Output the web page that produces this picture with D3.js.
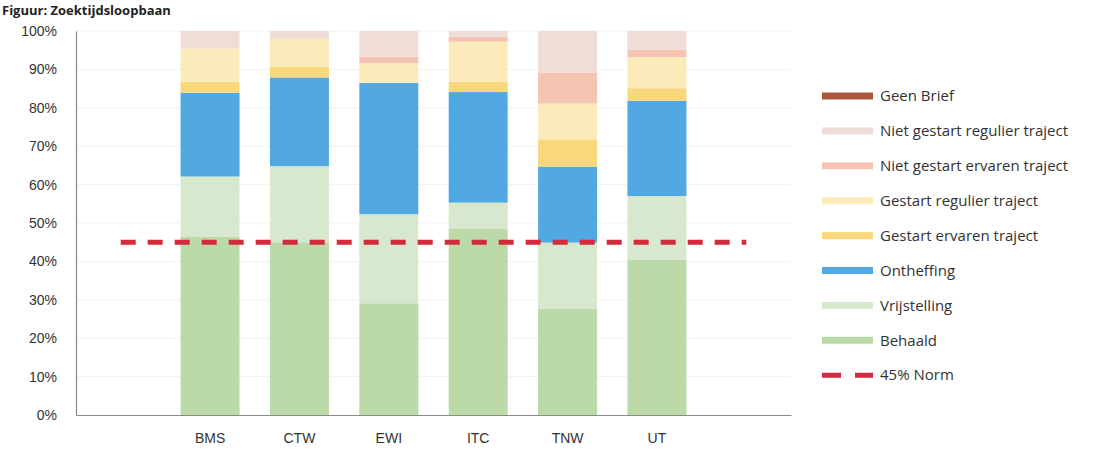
<!DOCTYPE html>
<html>
<head>
<meta charset="utf-8">
<script src="https://cdn.jsdelivr.net/npm/d3@7/dist/d3.min.js"></script>
<style>
  html, body { margin: 0; padding: 0; background: #fff; }
  svg { display: block; font-family: "Open Sans", "Liberation Sans", sans-serif; }
</style>
</head>
<body>
<svg id="chart" width="1094" height="450"></svg>
<script>
// Faculties (empty slots at both ends keep the norm line running past the bars)
const categories = ["", "BMS", "CTW", "EWI", "ITC", "TNW", "UT", " "];
const faculties = ["BMS", "CTW", "EWI", "ITC", "TNW", "UT"];

// Share per status (%), stacked bottom to top
const behaald            = [46.5, 45.0, 29.1, 48.6, 27.6, 40.5];
const vrijstelling       = [15.6, 19.8, 23.2,  6.7, 17.3, 16.5];
const ontheffing         = [21.8, 23.1, 34.2, 28.8, 19.8, 24.8];
const gestartErvaren     = [ 2.9,  2.8,  0.0,  2.7,  7.1,  3.3];
const gestartRegulier    = [ 8.6,  7.3,  5.1, 10.4,  9.3,  8.1];
const nietGestartErvaren = [ 0.0,  0.0,  1.7,  1.3,  8.0,  1.9];
const nietGestartRegulier= [ 4.6,  2.0,  6.7,  1.5, 10.9,  4.9];
const geenBrief          = [ 0.0,  0.0,  0.0,  0.0,  0.0,  0.0];

const norm = 45;
const yTicks = [0, 10, 20, 30, 40, 50, 60, 70, 80, 90, 100];

const series = [
  { key: "Behaald",                      values: behaald,             color: "#bcd9a8" },
  { key: "Vrijstelling",                 values: vrijstelling,        color: "#d7e8cf" },
  { key: "Ontheffing",                   values: ontheffing,          color: "#52a9e1" },
  { key: "Gestart ervaren traject",      values: gestartErvaren,      color: "#f9d77c" },
  { key: "Gestart regulier traject",     values: gestartRegulier,     color: "#fbebbb" },
  { key: "Niet gestart ervaren traject", values: nietGestartErvaren,  color: "#f5c3b1" },
  { key: "Niet gestart regulier traject",values: nietGestartRegulier, color: "#efddd7" },
  { key: "Geen Brief",                   values: geenBrief,           color: "#a9583b" }
];

const svg = d3.select("#chart");
const margin = { left: 76, right: 303, top: 31, bottom: 35 };
const W = 1094, H = 450;

const x = d3.scaleBand().domain(categories).range([margin.left, W - margin.right])
  .paddingInner(0.34).paddingOuter(0.17);
const y = d3.scaleLinear().domain([0, 100]).range([H - margin.bottom, margin.top]);

// Title line
svg.append("text").attr("x", 2).attr("y", 15)
  .attr("font-size", 13).attr("font-weight", 700).attr("fill", "#222")
  .text("Figuur: Zoektijdsloopbaan");

// Faint gridlines
svg.append("g").selectAll("line").data(yTicks.filter(d => d > 0)).join("line")
  .attr("x1", margin.left).attr("x2", W - margin.right)
  .attr("y1", d => y(d)).attr("y2", d => y(d))
  .attr("stroke", "#f2f2f2").attr("stroke-width", 1);

// Stacked bars
const rows = faculties.map((f, i) => {
  const r = { fac: f };
  series.forEach(s => r[s.key] = s.values[i]);
  return r;
});
const stacked = d3.stack().keys(series.map(s => s.key))(rows);

svg.append("g").selectAll("g").data(stacked).join("g")
  .attr("fill", (d, i) => series[i].color)
  .selectAll("rect").data(d => d).join("rect")
  .attr("x", d => x(d.data.fac))
  .attr("width", x.bandwidth())
  .attr("y", d => y(d[1]))
  .attr("height", d => Math.max(0, y(d[0]) - y(d[1])));

// Axes
const yAxis = d3.axisLeft(y).tickValues(yTicks).tickFormat(d => d + "%").tickSize(0).tickPadding(19);
const gy = svg.append("g").attr("transform", `translate(${margin.left},0)`).call(yAxis);
gy.select(".domain").attr("stroke", "#8a8a8a").attr("stroke-width", 1.2);
gy.selectAll("text").attr("font-size", 14).attr("fill", "#333");

const xAxis = d3.axisBottom(x).tickSize(0).tickPadding(18);
const gx = svg.append("g").attr("transform", `translate(0,${y(0)})`).call(xAxis);
gx.select(".domain").attr("stroke", "#8a8a8a").attr("stroke-width", 1.2);
gx.selectAll("text").attr("font-size", 14).attr("fill", "#333");

// 45% norm line
const normLine = d3.line().x(d => x(d) + x.bandwidth() / 2).y(() => y(norm));
svg.append("path").datum(categories)
  .attr("d", normLine)
  .attr("fill", "none").attr("stroke", "#d42a3c").attr("stroke-width", 5)
  .attr("stroke-dasharray", "15,12");

// Legend (top to bottom reverses the stack order)
const legendItems = series.slice().reverse().map(s => ({ label: s.key, color: s.color, dash: false }))
  .concat([{ label: "45% Norm", color: "#d42a3c", dash: true }]);
const lg = svg.append("g").attr("transform", "translate(822,96)");
const item = lg.selectAll("g").data(legendItems).join("g")
  .attr("transform", (d, i) => `translate(0,${i * 34.9})`);
item.filter(d => !d.dash).append("rect")
  .attr("x", 0).attr("y", -3.5).attr("width", 51).attr("height", 7)
  .attr("fill", d => d.color);
item.filter(d => d.dash).append("line")
  .attr("x1", 0).attr("x2", 51).attr("y1", 0).attr("y2", 0)
  .attr("stroke", d => d.color).attr("stroke-width", 5)
  .attr("stroke-dasharray", "19,14");
item.append("text").attr("x", 58).attr("y", 0).attr("dy", "0.35em")
  .attr("font-size", 15).attr("fill", "#333").text(d => d.label);
</script>
</body>
</html>
